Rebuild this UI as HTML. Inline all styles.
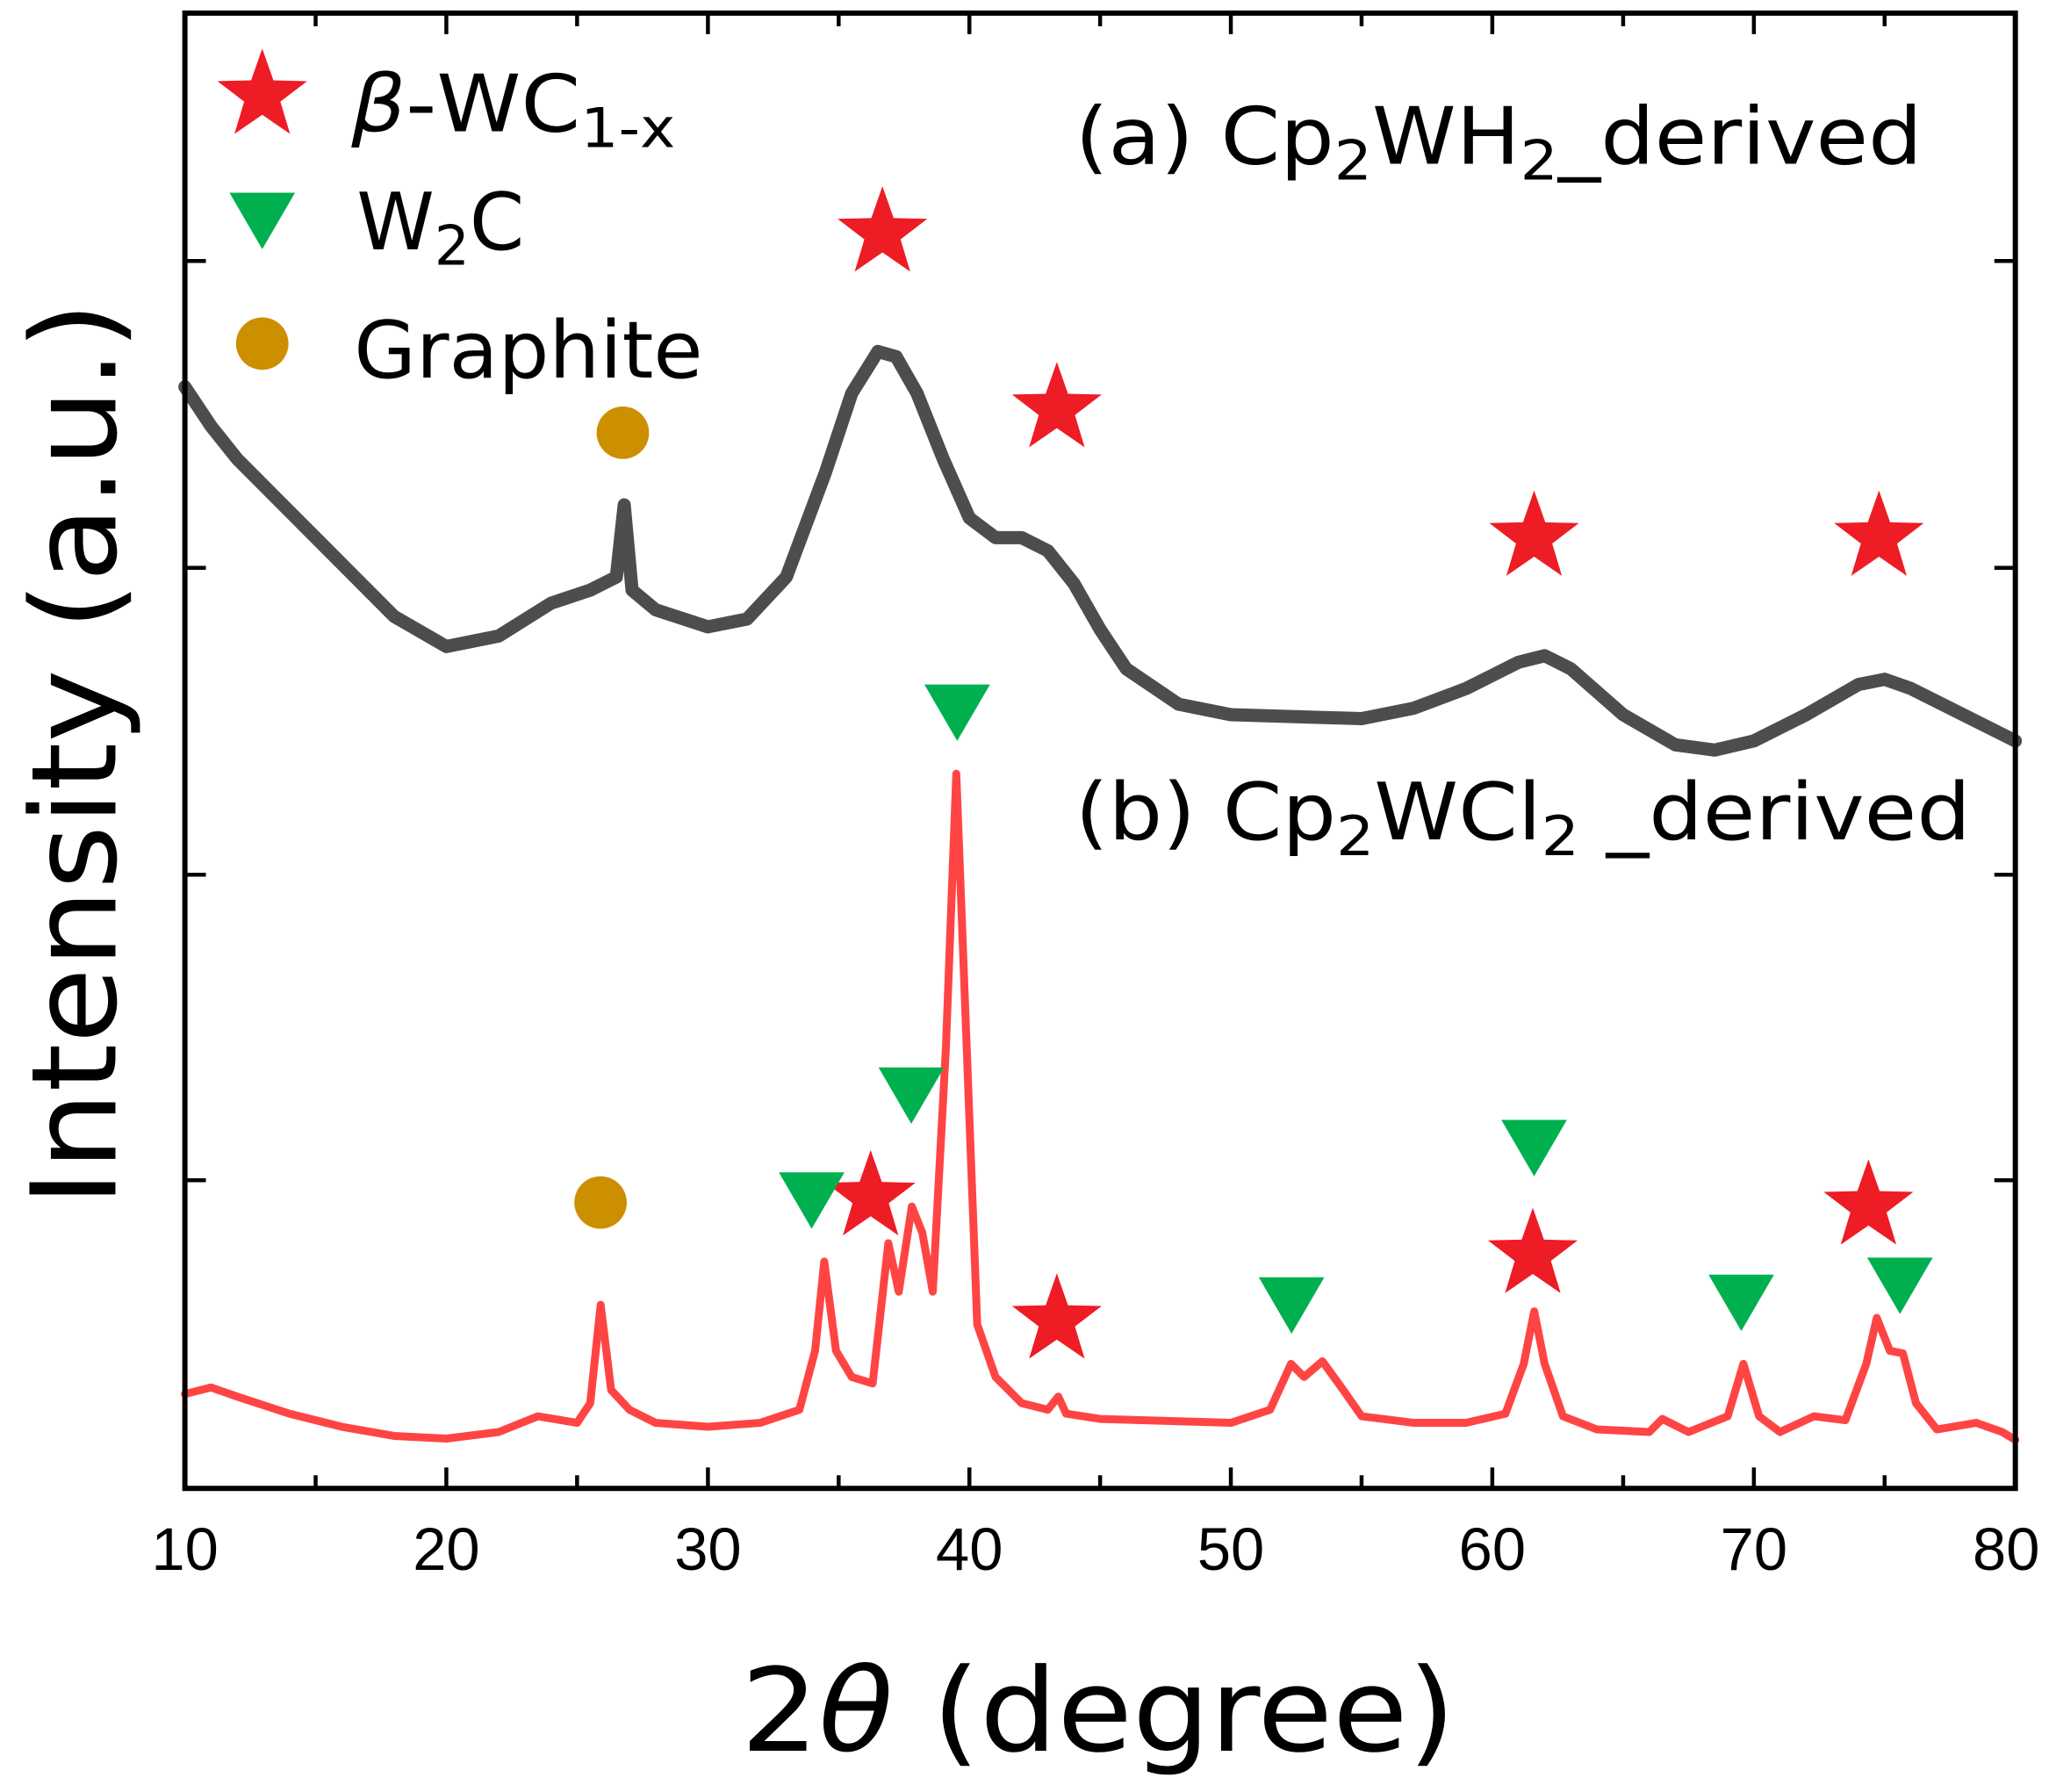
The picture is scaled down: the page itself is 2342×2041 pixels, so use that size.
<!DOCTYPE html>
<html><head><meta charset="utf-8"><style>
html,body{margin:0;padding:0;background:#fff;}
svg{display:block;}
</style></head><body>
<svg width="2342" height="2041" viewBox="0 0 1568 1366.5" xmlns="http://www.w3.org/2000/svg">
<defs>
<polygon id="star" points="0,-36 8.5,-11.7 34.2,-11.1 13.8,4.5 21.2,29.1 0,14.5 -21.2,29.1 -13.8,4.5 -34.2,-11.1 -8.5,-11.7" fill="#ee1c25"/>
<polygon id="tri" points="-25,-21 25,-21 0,22" fill="#00b04f"/>
<circle id="dot" r="20" fill="#cc8f00"/>
</defs>
<rect width="1568" height="1366.5" fill="#fff"/>
<g transform="translate(141,0) scale(19.943,1) translate(-10,0)" fill="none" stroke-linejoin="round" stroke-linecap="round">
<polyline vector-effect="non-scaling-stroke" stroke="#4d4d4d" stroke-width="15" points="10,295 11,325 12,350 14,390 16,430 18,470 20,493 22,485 24,460 25.5,450 26.5,440 26.8,385 27.1,450 28,465 30,478 31.5,472 33,440 34.5,360 35.5,300 36.5,268 37.2,272 38,300 39,350 40,395 41,410 42,410 43,420 44,445 45,480 46,510 48,537 50,545 55,548 57,540 59,525 61,505 62,500 63,510 65,545 67,568 68.5,572 70,565 72,545 74,522 75,518 76,525 78,545 80,565"/>
<polyline vector-effect="non-scaling-stroke" stroke="#ff4444" stroke-width="9" points="10,1063 11,1058 12,1065 14,1078 16,1088 18,1095 20,1097 22,1092 23.5,1080 25,1085 25.5,1070 25.9,995 26.3,1060 27,1075 28,1085 30,1088 32,1085 33.5,1075 34.1,1030 34.45,962 34.9,1030 35.5,1050 36.3,1055 36.9,948 37.3,985 37.8,920 38.2,940 38.6,985 39.1,800 39.5,590 39.9,800 40.3,1010 41,1050 42,1070 43,1075 43.4,1065 43.7,1078 45,1082 50,1085 51.5,1075 52.3,1040 52.8,1050 53.5,1038 54.3,1060 55,1080 57,1085 59,1085 60.5,1078 61.2,1040 61.6,1000 62,1040 62.7,1080 64,1090 66,1092 66.5,1082 67.5,1092 69,1080 69.6,1040 70.2,1080 71,1092 72.3,1080 73.5,1083 74.3,1040 74.7,1005 75.2,1030 75.7,1032 76.2,1070 77,1090 78.5,1085 79.5,1092 80,1098"/>
</g>
<rect x="141" y="10" width="1396" height="1125" fill="none" stroke="#000" stroke-width="4"/>
<g stroke="#000" stroke-width="3">
<path d="M340.4,1135v-16M539.9,1135v-16M739.3,1135v-16M938.7,1135v-16M1138.1,1135v-16M1337.6,1135v-16"/>
<path d="M240.7,1135v-10M440.1,1135v-10M639.6,1135v-10M839,1135v-10M1038.4,1135v-10M1237.9,1135v-10M1437.3,1135v-10"/>
<path d="M340.4,10v16M539.9,10v16M739.3,10v16M938.7,10v16M1138.1,10v16M1337.6,10v16"/>
<path d="M240.7,10v10M440.1,10v10M639.6,10v10M839,10v10M1038.4,10v10M1237.9,10v10M1437.3,10v10"/>
<path d="M141,199h16M141,433h16M141,667h16M141,900h16M1537,199h-16M1537,433h-16M1537,667h-16M1537,900h-16"/>
</g>
<g font-family="'Liberation Sans',Arial,sans-serif" font-size="46" text-anchor="middle" fill="#000">
<text x="141" y="1197">10</text><text x="340.4" y="1197">20</text><text x="539.9" y="1197">30</text><text x="739.3" y="1197">40</text><text x="938.7" y="1197">50</text><text x="1138.1" y="1197">60</text><text x="1337.6" y="1197">70</text><text x="1530" y="1197">80</text>
</g>
<g font-family="'DejaVu Sans',Verdana,sans-serif" fill="#000">
<text x="565" y="1335" font-size="88" textLength="545" lengthAdjust="spacingAndGlyphs">2<tspan font-style="italic">θ</tspan> (degree)</text>
<text transform="translate(88,920) rotate(-90)" font-size="90" textLength="690" lengthAdjust="spacingAndGlyphs">Intensity (a.u.)</text>
<text x="268" y="100" font-size="60" textLength="247" lengthAdjust="spacingAndGlyphs"><tspan font-style="italic">β</tspan>-WC<tspan font-size="42" dy="12">1-x</tspan></text>
<text x="272" y="190" font-size="60">W<tspan font-size="42" dy="12">2</tspan><tspan dy="-12">C</tspan></text>
<text x="270" y="288" font-size="60" textLength="266" lengthAdjust="spacingAndGlyphs">Graphite</text>
<text x="820" y="125" font-size="60" textLength="646" lengthAdjust="spacingAndGlyphs">(a)  Cp<tspan font-size="42" dy="12">2</tspan><tspan dy="-12">WH</tspan><tspan font-size="42" dy="12">2</tspan><tspan dy="-12">_derived</tspan></text>
<text x="820" y="640" font-size="60" textLength="683" lengthAdjust="spacingAndGlyphs">(b)  Cp<tspan font-size="42" dy="12">2</tspan><tspan dy="-12">WCl</tspan><tspan font-size="42" dy="12">2</tspan><tspan dy="-12"> _derived</tspan></text>
</g>
<use href="#star" x="200" y="73"/>
<use href="#tri" x="200" y="168"/>
<use href="#dot" x="200" y="262"/>
<use href="#star" x="673" y="178"/><use href="#star" x="806" y="312"/><use href="#star" x="1170" y="410"/><use href="#star" x="1433" y="410"/>
<use href="#star" x="664" y="913"/><use href="#star" x="806" y="1007"/><use href="#star" x="1169" y="957"/><use href="#star" x="1425" y="920"/>
<use href="#tri" x="730" y="543"/><use href="#tri" x="695" y="835"/><use href="#tri" x="619" y="915"/><use href="#tri" x="1170" y="875"/><use href="#tri" x="985" y="995"/><use href="#tri" x="1328" y="993"/><use href="#tri" x="1449" y="980"/>
<use href="#dot" x="475" y="330"/><use href="#dot" x="458" y="917"/>
</svg>
</body></html>
